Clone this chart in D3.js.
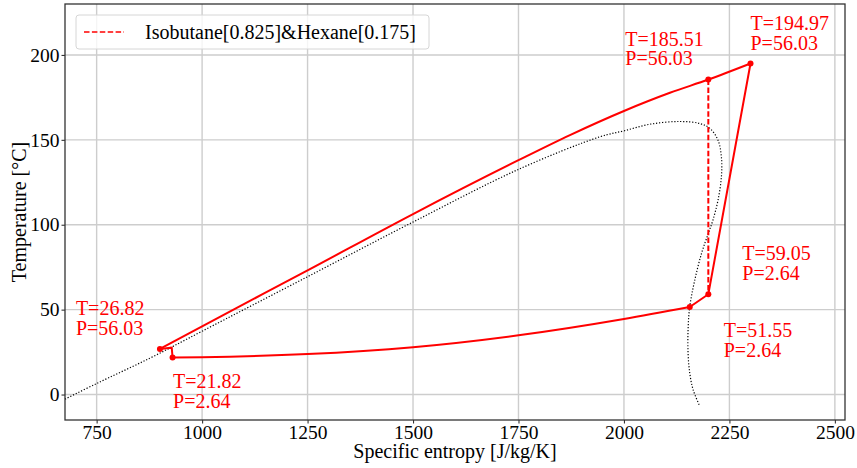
<!DOCTYPE html>
<html>
<head>
<meta charset="utf-8">
<script src="https://cdn.jsdelivr.net/npm/d3@7"></script>
<style>
  html, body { margin: 0; padding: 0; background: #fff; }
  svg { display: block; font-family: "Liberation Serif", "DejaVu Serif", serif; }
  .tick text { font-size: 19.5px; fill: #000; font-family: "Liberation Serif", serif; }
  .ann { font-size: 20px; fill: #ff0000; }
</style>
</head>
<body>
<div id="chart"></div>
<script>
// saturation dome (entropy, temperature)
const domeS = [675, 750, 876, 1000, 1250, 1500, 1750, 1943, 2000, 2062, 2133, 2180, 2204, 2223, 2231, 2231, 2223, 2211, 2200, 2184, 2168, 2156, 2152, 2152, 2156, 2164, 2180];
const domeT = [-2.7, 6.5, 21.4, 37.3, 69.4, 101.6, 132.6, 151.8, 155.3, 159.2, 160.8, 159.6, 156.7, 149.8, 140, 128.2, 114.5, 102.8, 94.9, 83.2, 67.5, 51.8, 38, 24.4, 12.6, 2.8, -7];

// high pressure heating line
const hpS = [900, 1000, 1250, 1500, 1750, 1872, 2000, 2109, 2200, 2300];
const hpT = [26.82, 40.2, 73.1, 106.3, 138, 152.8, 167, 177.7, 185.51, 194.97];

// expansion + low pressure line down to the pump inlet, then pump
const lpS = [2300, 2200, 2156, 2000, 1750, 1500, 1250, 1000, 930, 928, 900];
const lpT = [194.97, 59.05, 51.55, 44.5, 34.9, 27.9, 23.8, 22.0, 21.82, 27.6, 26.82];

// isentropic expansion (dashed)
const isenS = [2200, 2200];
const isenT = [185.51, 59.05];

// state points
const stateS = [900, 930, 2156, 2200, 2200, 2300];
const stateT = [26.82, 21.82, 51.55, 59.05, 185.51, 194.97];
const stateLabels = [
  ["T=26.82", "P=56.03"],
  ["T=21.82", "P=2.64"],
  ["T=51.55", "P=2.64"],
  ["T=59.05", "P=2.64"],
  ["T=185.51", "P=56.03"],
  ["T=194.97", "P=56.03"]
];

const xTicks = [750, 1000, 1250, 1500, 1750, 2000, 2250, 2500];
const yTicks = [0, 50, 100, 150, 200];
const legendLabel = "Isobutane[0.825]&Hexane[0.175]";

const W = 857, H = 468;
const M = { top: 4, right: 12, bottom: 48, left: 65 };
const iW = W - M.left - M.right;
const iH = H - M.top - M.bottom;

const svg = d3.select("#chart").append("svg")
  .attr("width", W).attr("height", H)
  .attr("viewBox", `0 0 ${W} ${H}`);

const g = svg.append("g").attr("transform", `translate(${M.left},${M.top})`);

const x = d3.scaleLinear().domain([675, 2524]).range([0, iW]);
const y = d3.scaleLinear().domain([-15, 230]).range([iH, 0]);

// grid
g.append("g").selectAll("line").data(xTicks).join("line")
  .attr("x1", d => x(d)).attr("x2", d => x(d))
  .attr("y1", 0).attr("y2", iH)
  .attr("stroke", "#cdcdcd").attr("stroke-width", 1.4);
g.append("g").selectAll("line").data(yTicks).join("line")
  .attr("y1", d => y(d)).attr("y2", d => y(d))
  .attr("x1", 0).attr("x2", iW)
  .attr("stroke", "#cdcdcd").attr("stroke-width", 1.4);

const zip = (a, b) => a.map((v, i) => [v, b[i]]);
const line = d3.line().x(d => x(d[0])).y(d => y(d[1]));
const smooth = d3.line().x(d => x(d[0])).y(d => y(d[1])).curve(d3.curveMonotoneX);

// dome
g.append("path")
  .datum(zip(domeS, domeT))
  .attr("d", d3.line().x(d => x(d[0])).y(d => y(d[1])).curve(d3.curveCatmullRom.alpha(0.5)))
  .attr("fill", "none")
  .attr("stroke", "#000")
  .attr("stroke-width", 1.2)
  .attr("stroke-dasharray", "1.2,1.8");

// cycle lines
g.append("path")
  .datum(zip(hpS, hpT))
  .attr("d", smooth)
  .attr("fill", "none").attr("stroke", "#ff0000").attr("stroke-width", 2);

const lpPts = zip(lpS, lpT);
g.append("path")
  .datum(lpPts.slice(0, 3))
  .attr("d", line)
  .attr("fill", "none").attr("stroke", "#ff0000").attr("stroke-width", 2);
g.append("path")
  .datum(lpPts.slice(2, 9).reverse())
  .attr("d", smooth)
  .attr("fill", "none").attr("stroke", "#ff0000").attr("stroke-width", 2);
g.append("path")
  .datum(lpPts.slice(8))
  .attr("d", line)
  .attr("fill", "none").attr("stroke", "#ff0000").attr("stroke-width", 2);

g.append("path")
  .datum(zip(isenS, isenT))
  .attr("d", line)
  .attr("fill", "none").attr("stroke", "#ff0000").attr("stroke-width", 2)
  .attr("stroke-dasharray", "5.5,2.4");

g.append("g").selectAll("circle").data(zip(stateS, stateT)).join("circle")
  .attr("cx", d => x(d[0])).attr("cy", d => y(d[1]))
  .attr("r", 3).attr("fill", "#ff0000");

// annotation offsets (px) relative to each state point
const labelOffsets = [[-84, -34], [0.5, 31], [34, 30], [34, -34], [-83, -34], [0, -33]];
const annG = g.append("g");
stateLabels.forEach((lines, i) => {
  const t = annG.append("text").attr("class", "ann")
    .attr("x", x(stateS[i]) + labelOffsets[i][0])
    .attr("y", y(stateT[i]) + labelOffsets[i][1]);
  lines.forEach((s, j) => t.append("tspan")
    .attr("x", x(stateS[i]) + labelOffsets[i][0])
    .attr("dy", j === 0 ? 0 : 19.6)
    .text(s));
});

// axes
const xAxis = g.append("g").attr("transform", `translate(0,${iH})`)
  .call(d3.axisBottom(x).tickValues(xTicks).tickSize(3.5).tickPadding(2).tickFormat(d3.format("d")));
const yAxis = g.append("g")
  .call(d3.axisLeft(y).tickValues(yTicks).tickSize(3.5).tickPadding(2).tickFormat(d3.format("d")));
[xAxis, yAxis].forEach(a => {
  a.attr("font-family", null).attr("font-size", null);
  a.select(".domain").remove();
  a.selectAll(".tick line").attr("stroke", "#333").attr("stroke-width", 1.1);
});
xAxis.selectAll(".tick text").attr("y", 19).attr("dy", 0);

g.append("rect")
  .attr("width", iW).attr("height", iH)
  .attr("fill", "none").attr("stroke", "#333").attr("stroke-width", 1.3);

svg.append("text")
  .attr("x", M.left + iW / 2).attr("y", 458)
  .attr("text-anchor", "middle").attr("font-size", 20)
  .text("Specific entropy [J/kg/K]");
svg.append("text")
  .attr("transform", `translate(26,${M.top + iH / 2}) rotate(-90)`)
  .attr("text-anchor", "middle").attr("font-size", 20)
  .text("Temperature [°C]");

// legend
const leg = g.append("g").attr("transform", "translate(11,11)");
leg.append("rect")
  .attr("width", 353).attr("height", 34).attr("rx", 3)
  .attr("fill", "#fff").attr("fill-opacity", 0.8)
  .attr("stroke", "#d6d6d6").attr("stroke-width", 1);
leg.append("line")
  .attr("x1", 8).attr("x2", 48).attr("y1", 17).attr("y2", 17)
  .attr("stroke", "#ff0000").attr("stroke-width", 1.5)
  .attr("stroke-dasharray", "5.5,2.4");
leg.append("text")
  .attr("x", 69).attr("y", 24).attr("font-size", 20)
  .text(legendLabel);
</script>
</body>
</html>
